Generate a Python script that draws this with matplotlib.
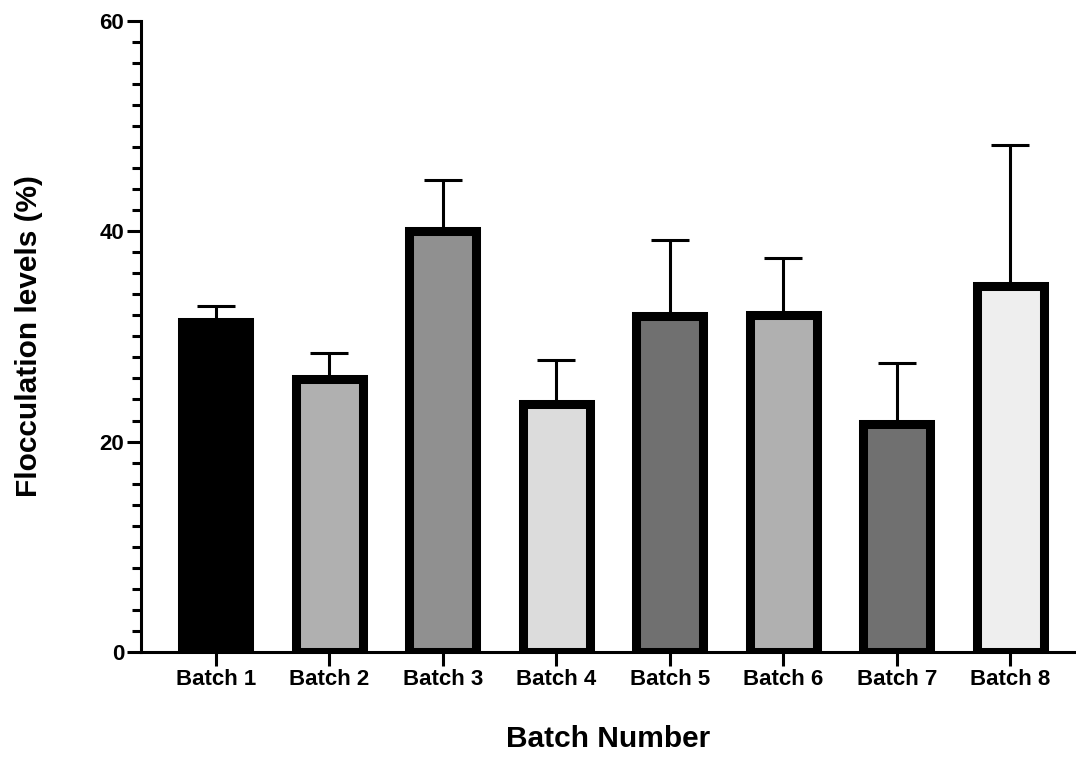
import matplotlib.pyplot as plt
from matplotlib.ticker import MultipleLocator

plt.rcParams['font.family'] = ['Liberation Sans', 'DejaVu Sans']
plt.rcParams['font.weight'] = 'bold'

batches = ['Batch 1', 'Batch 2', 'Batch 3', 'Batch 4',
           'Batch 5', 'Batch 6', 'Batch 7', 'Batch 8']
means = [31.4, 25.9, 40.0, 23.6, 31.9, 32.0, 21.7, 34.8]
errors = [1.5, 2.55, 4.9, 4.15, 7.25, 5.4, 5.8, 13.4]
fills = ['#000000', '#b0b0b0', '#909090', '#dcdcdc',
         '#707070', '#b0b0b0', '#707070', '#eeeeee']

fig = plt.figure(figsize=(10.76, 7.57), dpi=100)
ax = fig.add_axes([0.131, 0.1387, 0.869, 0.834])

x = list(range(1, len(batches) + 1))
ax.bar(x, means, width=0.59, color=fills, edgecolor='black', linewidth=6.5, zorder=2)
# upper error bars only
ax.errorbar(x, means, yerr=[[0] * len(errors), errors], fmt='none', ecolor='black',
            elinewidth=2.2, capsize=14, capthick=2.2, zorder=1)

ax.set_xlim(0.34, 8.58)
ax.set_ylim(0, 60)
ax.set_xticks(x)
ax.set_xticklabels(batches)
ax.yaxis.set_major_locator(MultipleLocator(20))
ax.yaxis.set_minor_locator(MultipleLocator(2))

for side in ['top', 'right']:
    ax.spines[side].set_visible(False)
for side in ['left', 'bottom']:
    ax.spines[side].set_linewidth(2.2)
ax.tick_params(axis='both', which='major', length=10, width=2.2, pad=2)
ax.tick_params(axis='x', labelsize=16)
ax.tick_params(axis='y', labelsize=16)
ax.tick_params(axis='y', which='minor', length=6.5, width=2.2)

ax.set_ylabel('Flocculation levels (%)', fontsize=21.5, fontweight='bold')
ax.set_xlabel('Batch Number', fontsize=21.5, fontweight='bold')
ax.yaxis.set_label_coords(-0.105, 0.5)
ax.xaxis.set_label_coords(0.5, -0.115)

plt.savefig('out.png', dpi=100)
